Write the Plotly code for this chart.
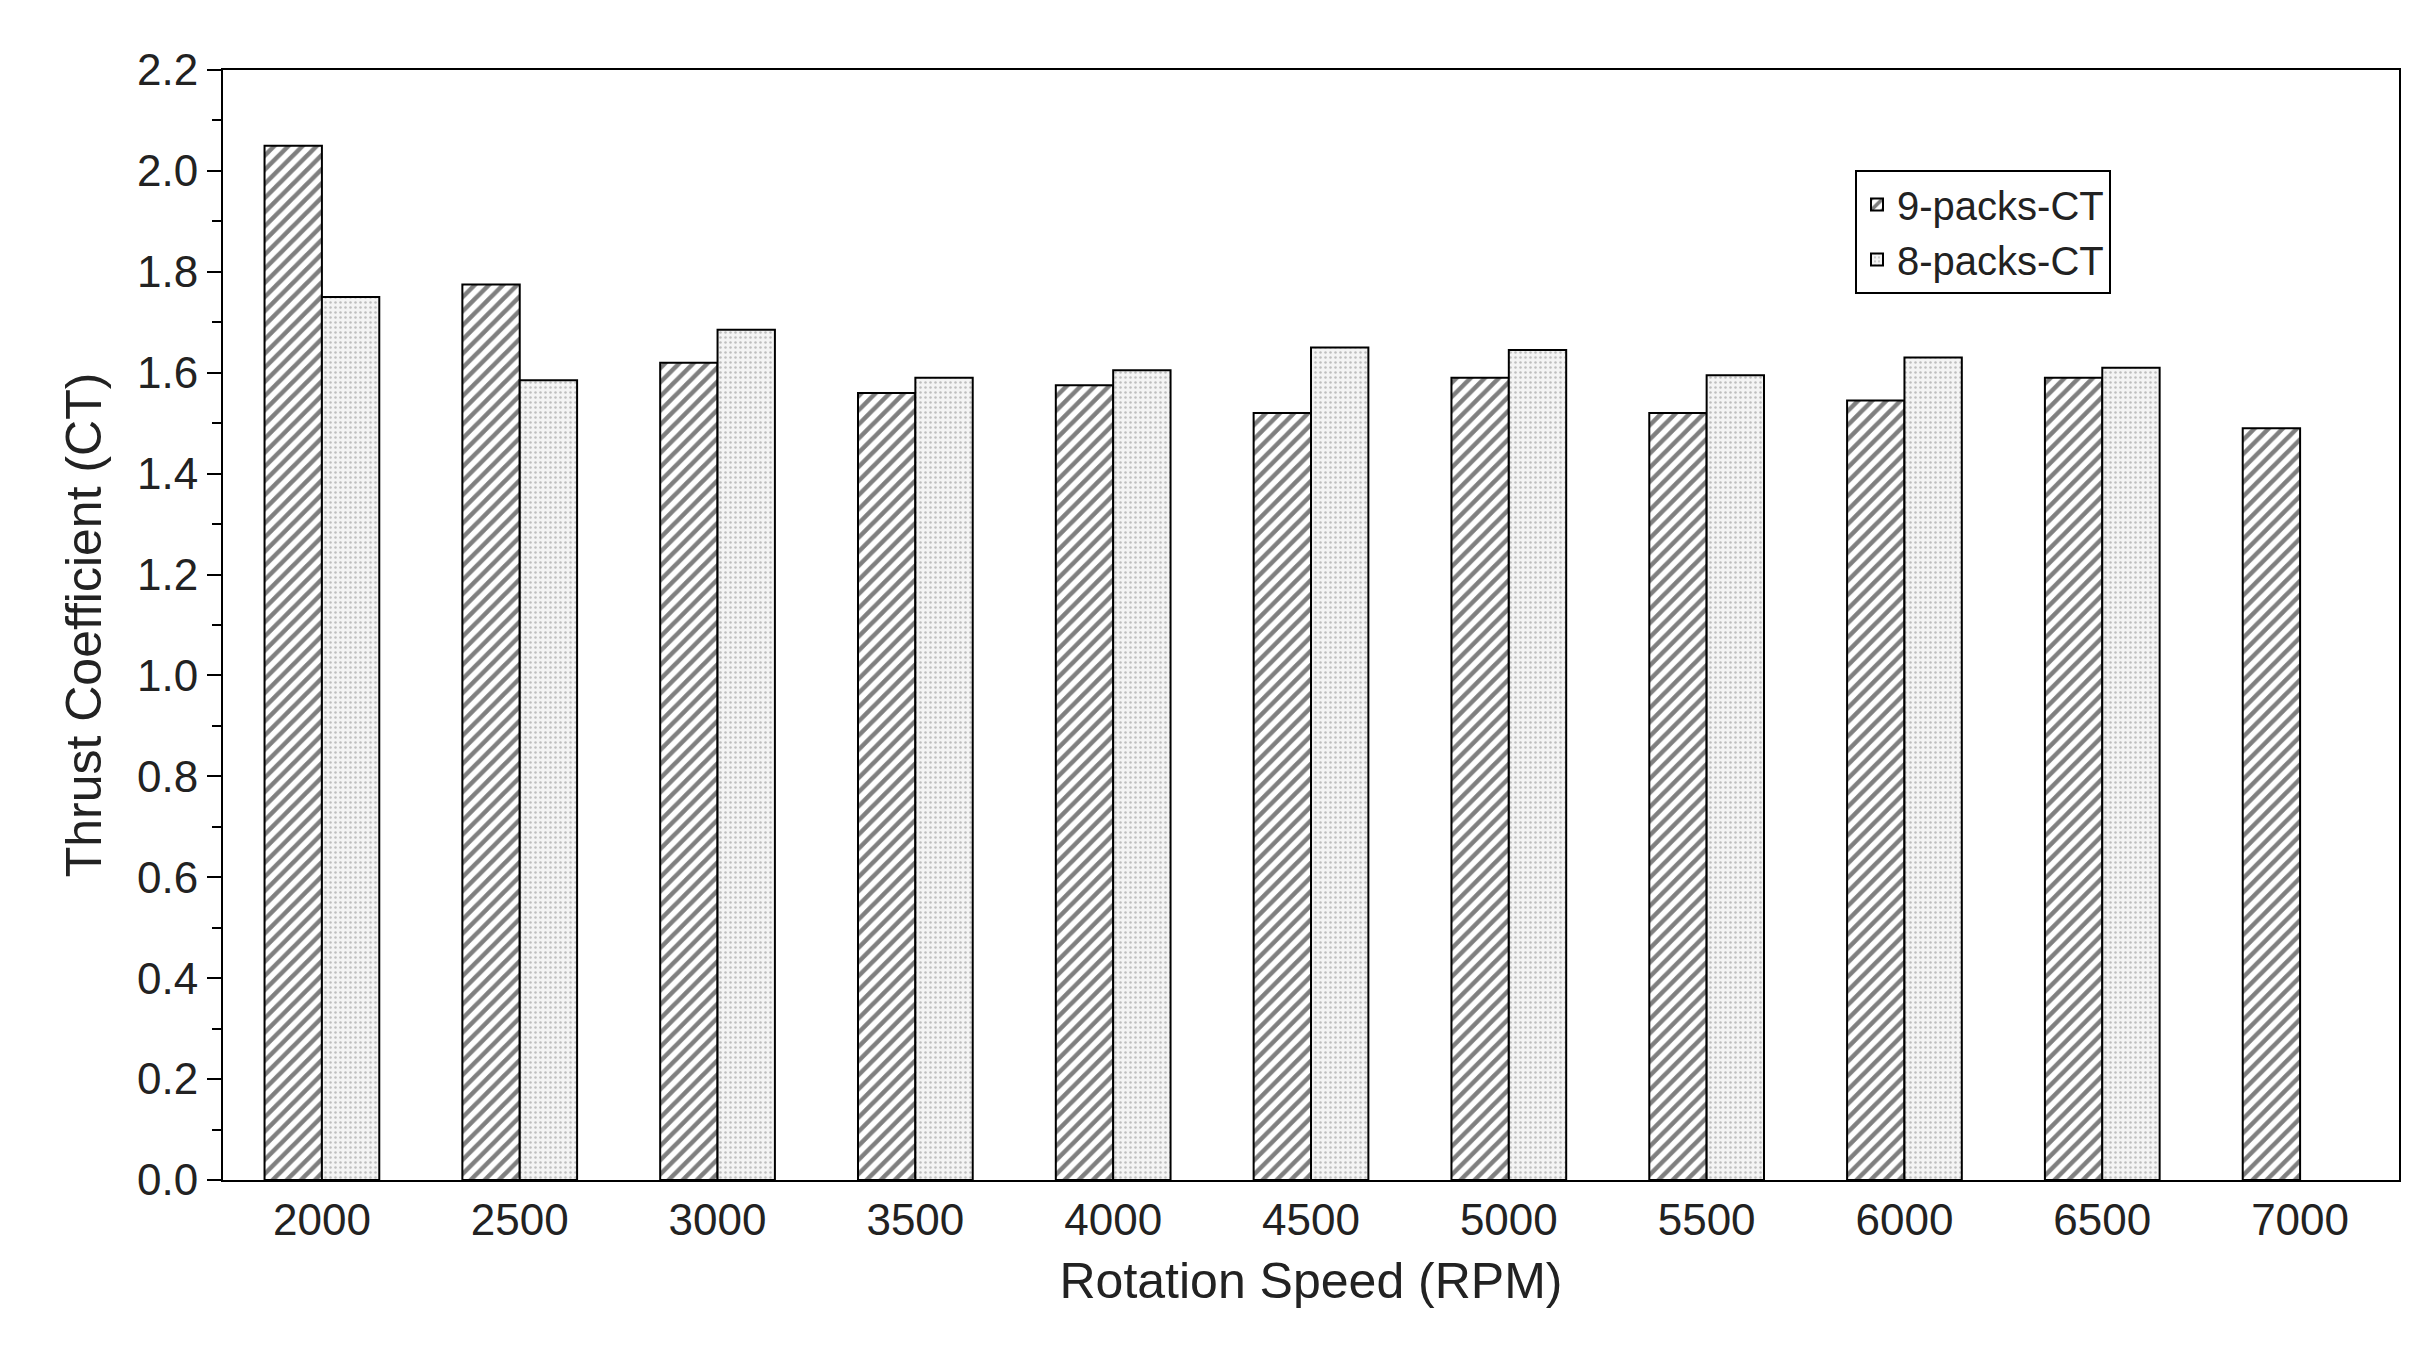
import plotly.graph_objects as go

rpm = ["2000","2500","3000","3500","4000","4500","5000","5500","6000","6500","7000"]
ct9 = [2.05,1.775,1.62,1.56,1.575,1.52,1.59,1.52,1.545,1.59,1.49]
ct8 = [1.75,1.585,1.685,1.59,1.605,1.65,1.645,1.595,1.63,1.61,None]

fig = go.Figure()
fig.add_bar(x=rpm, y=ct9, name="9-packs-CT",
            marker=dict(color="white", line=dict(color="black", width=2),
                        pattern=dict(shape="/", fgcolor="black", bgcolor="white", size=10, solidity=0.45)))
fig.add_bar(x=rpm, y=ct8, name="8-packs-CT",
            marker=dict(color="white", line=dict(color="black", width=2),
                        pattern=dict(shape=".", fgcolor="#888", bgcolor="#f4f4f4", size=5, solidity=0.2)))
fig.update_layout(
    width=2416, height=1372, barmode="group", bargap=0.42, bargroupgap=0,
    plot_bgcolor="white", paper_bgcolor="white",
    font=dict(family="Liberation Sans, Arial", size=42, color="#222"),
    margin=dict(l=215, r=25, t=62, b=200),
    legend=dict(x=0.75, y=0.91, xanchor="left", yanchor="top", bordercolor="black", borderwidth=2,
                bgcolor="white", font=dict(size=40), tracegroupgap=0, itemwidth=30),
    xaxis=dict(title=dict(text="Rotation Speed (RPM)", standoff=20), showline=True, linecolor="black",
               linewidth=2, mirror=True, ticks="", tickfont=dict(size=44)),
    yaxis=dict(title=dict(text="Thrust Coefficient (CT)", standoff=20), range=[0, 2.2], dtick=0.2, tickformat=".1f",
               showline=True, linecolor="black", linewidth=2, mirror=True, showgrid=False,
               ticks="outside", ticklen=14, tickwidth=2, tickcolor="black", tickfont=dict(size=44),
               minor=dict(dtick=0.1, ticks="outside", ticklen=9, tickcolor="black", tickwidth=2)),
)
fig.write_html("out.html")
